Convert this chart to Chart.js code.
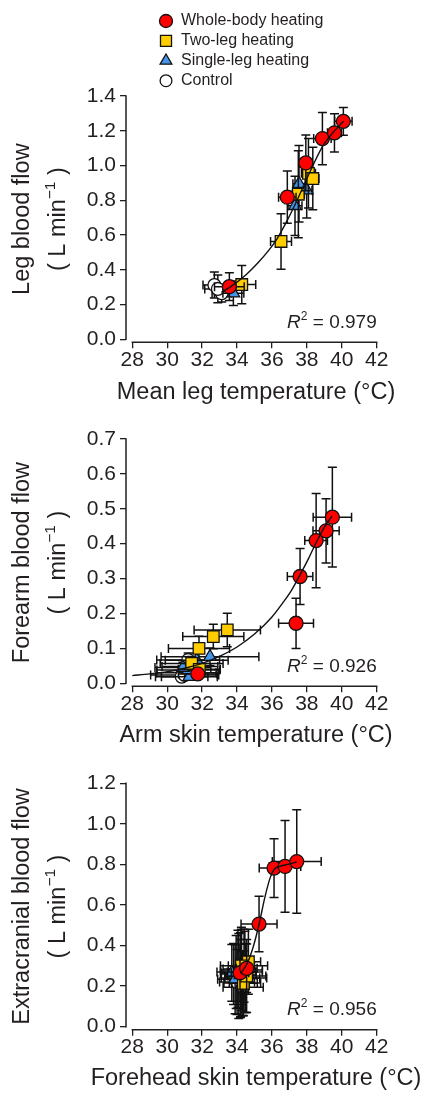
<!DOCTYPE html>
<html>
<head>
<meta charset="utf-8">
<title>Limb and head blood flow vs. local temperature</title>
<script src="https://cdn.jsdelivr.net/npm/chart.js@4.4.1/dist/chart.umd.min.js"></script>
<style>
  html, body { margin: 0; padding: 0; background: #ffffff; }
  #figure { position: relative; width: 429px; height: 1093px; overflow: hidden; }
  #figure canvas { position: absolute; left: 0; }
</style>
</head>
<body>
<div id="figure">
  <canvas id="legPanel"></canvas>
  <canvas id="armPanel"></canvas>
  <canvas id="headPanel"></canvas>
</div>
<script>
// ---------------- data ----------------
const groupNames = ['Whole-body heating', 'Two-leg heating', 'Single-leg heating', 'Control'];
const xTicks = [28, 30, 32, 34, 36, 38, 40, 42];

// rows: [temperature (°C), blood flow (L/min), temperature SD, flow SD]
const legWhole   = [[33.56, 0.303, 0.85, 0.08], [36.88, 0.818, 0.50, 0.15], [37.94, 1.015, 0.35, 0.16],
                    [38.89, 1.155, 0.50, 0.15], [39.58, 1.188, 0.40, 0.11], [40.09, 1.254, 0.50, 0.08]];
const legTwo     = [[34.27, 0.315, 0.80, 0.11], [36.52, 0.563, 0.60, 0.16], [37.51, 0.835, 0.35, 0.25],
                    [38.09, 0.955, 0.40, 0.20], [38.34, 0.925, 0.35, 0.18]];
const legSingle  = [[33.79, 0.265, 0.60, 0.07], [37.32, 0.768, 0.40, 0.17], [37.55, 0.895, 0.35, 0.22],
                    [37.99, 0.858, 0.30, 0.16]];
const legControl = [[32.70, 0.312, 0.65, 0.075], [33.12, 0.265, 0.55, 0.05], [32.90, 0.290, 0.75, 0.08]];
const legFit     = [[33.1, 0.27], [33.6, 0.30], [34.5, 0.37], [35.2, 0.44], [35.8, 0.51], [36.3, 0.58],
                    [36.8, 0.67], [37.3, 0.77], [37.8, 0.88], [38.3, 0.99], [38.9, 1.11], [39.5, 1.19], [40.1, 1.255]];
const legYTicks  = [0, 0.2, 0.4, 0.6, 0.8, 1.0, 1.2, 1.4];
const legR2 = '0.979';

const armWhole   = [[31.75, 0.027, 1.10, 0.010], [37.38, 0.172, 1.00, 0.072], [37.61, 0.306, 0.73, 0.080],
                    [38.53, 0.409, 0.65, 0.135], [39.10, 0.437, 0.75, 0.092], [39.46, 0.476, 1.10, 0.143]];
const armTwo     = [[31.40, 0.057, 1.80, 0.020], [31.84, 0.040, 1.20, 0.015], [31.82, 0.100, 1.75, 0.035],
                    [32.64, 0.134, 1.75, 0.035], [33.44, 0.153, 1.90, 0.048]];
const armSingle  = [[31.27, 0.019, 1.60, 0.010], [31.21, 0.038, 1.80, 0.015], [31.69, 0.066, 1.80, 0.020],
                    [32.45, 0.076, 2.80, 0.025], [30.90, 0.045, 1.60, 0.015]];
const armControl = [[30.83, 0.019, 1.50, 0.010], [31.10, 0.030, 1.70, 0.012], [31.30, 0.048, 1.60, 0.015],
                    [31.00, 0.024, 1.95, 0.010], [31.20, 0.067, 1.80, 0.020]];
const armFit     = [[28.0, 0.022], [29.0, 0.027], [30.0, 0.033], [31.0, 0.043], [32.0, 0.057], [33.0, 0.077],
                    [34.0, 0.104], [35.0, 0.141], [36.0, 0.190], [36.6, 0.229], [37.1, 0.265], [37.6, 0.310],
                    [38.1, 0.358], [38.6, 0.410], [39.0, 0.447], [39.45, 0.480]];
const armYTicks  = [0, 0.1, 0.2, 0.3, 0.4, 0.5, 0.6, 0.7];
const armR2 = '0.926';

const headWhole   = [[34.17, 0.266, 0.50, 0.14], [34.55, 0.288, 0.60, 0.12], [35.26, 0.506, 1.03, 0.137],
                     [36.12, 0.782, 0.85, 0.145], [36.75, 0.790, 0.90, 0.226], [37.42, 0.814, 1.40, 0.255]];
const headTwo     = [[34.36, 0.214, 0.80, 0.16], [34.65, 0.320, 0.70, 0.16], [34.45, 0.270, 1.00, 0.20],
                     [34.55, 0.250, 1.10, 0.18], [34.25, 0.300, 0.75, 0.19]];
const headSingle  = [[33.89, 0.234, 1.00, 0.17], [34.20, 0.255, 0.90, 0.21], [34.50, 0.240, 1.20, 0.17],
                     [34.05, 0.285, 0.85, 0.19], [34.30, 0.215, 1.05, 0.16], [33.70, 0.265, 0.60, 0.14]];
const headControl = [[33.95, 0.270, 1.10, 0.18], [34.10, 0.250, 0.80, 0.21], [34.25, 0.280, 1.20, 0.20],
                     [34.00, 0.220, 1.00, 0.16], [34.40, 0.300, 1.35, 0.18], [34.20, 0.240, 1.10, 0.19],
                     [33.80, 0.260, 0.75, 0.15], [34.35, 0.195, 1.15, 0.14]];
const headFit     = [[34.2, 0.262], [34.6, 0.315], [34.95, 0.40], [35.26, 0.505], [35.6, 0.64], [35.9, 0.735],
                     [36.12, 0.775], [36.5, 0.792], [36.9, 0.80], [37.42, 0.812]];
const headYTicks  = [0, 0.2, 0.4, 0.6, 0.8, 1.0, 1.2];
const headR2 = '0.956';

// ---------------- styles & layout ----------------
const FONT = "'Liberation Sans', Arial, Helvetica, sans-serif";
const INK = '#231f20';
const EDGE = '#111111';
Chart.defaults.font.family = FONT;
Chart.defaults.color = INK;

const seriesStyles = [
  { style: 'circle',   radius: 7.0, legendRadius: 6.5, fill: '#ff0000' },
  { style: 'rect',     radius: 8.2, legendRadius: 7.8, fill: '#ffcc00' },
  { style: 'triangle', radius: 7.3, legendRadius: 6.8, fill: '#4596ea' },
  { style: 'circle',   radius: 6.4, legendRadius: 5.9, fill: '#ffffff' }
];

const FRAME = { width: 429, axisLeft: 126, firstTickX: 132.3, lastTickX: 376.7 };
const LEGEND = { markerX: 166, textX: 181, top: 21, step: 19.9, size: 16 };
const TITLE = { size: 23.5, supSize: 15.5, xCenter: 256, yLine1: 22.5, yLine2: 58.5 };

// ---------------- plugins ----------------
const errorBars = {
  id: 'errorBars',
  beforeDatasetDraw(chart, args) {
    const ds = chart.data.datasets[args.index];
    if (!ds.errors) return;
    const { ctx } = chart;
    const xs = chart.scales.x, ys = chart.scales.y;
    const cap = 4.5;
    ctx.save();
    ctx.strokeStyle = EDGE;
    ctx.lineWidth = 1.5;
    ds.data.forEach((p, i) => {
      const [xe, ye] = ds.errors[i];
      const px = xs.getPixelForValue(p.x), py = ys.getPixelForValue(p.y);
      const xl = xs.getPixelForValue(p.x - xe), xr = xs.getPixelForValue(p.x + xe);
      const yt = ys.getPixelForValue(p.y + ye), yb = ys.getPixelForValue(p.y - ye);
      ctx.beginPath();
      ctx.moveTo(xl, py); ctx.lineTo(xr, py);
      ctx.moveTo(xl, py - cap); ctx.lineTo(xl, py + cap);
      ctx.moveTo(xr, py - cap); ctx.lineTo(xr, py + cap);
      ctx.moveTo(px, yt); ctx.lineTo(px, yb);
      ctx.moveTo(px - cap, yt); ctx.lineTo(px + cap, yt);
      ctx.moveTo(px - cap, yb); ctx.lineTo(px + cap, yb);
      ctx.stroke();
    });
    ctx.restore();
  }
};

// detached axis lines spanning the first to last tick
const axisLines = {
  id: 'axisLines',
  beforeDatasetsDraw(chart) {
    const { ctx, chartArea } = chart;
    const xs = chart.scales.x, ys = chart.scales.y;
    const yt = ys.ticks;
    ctx.save();
    ctx.strokeStyle = INK;
    ctx.lineWidth = 1.5;
    ctx.beginPath();
    ctx.moveTo(chartArea.left, ys.getPixelForValue(yt[0].value) + 0.7);
    ctx.lineTo(chartArea.left, ys.getPixelForValue(yt[yt.length - 1].value) - 0.7);
    ctx.moveTo(xs.getPixelForValue(xTicks[0]) - 0.7, chartArea.bottom);
    ctx.lineTo(xs.getPixelForValue(xTicks[xTicks.length - 1]) + 0.7, chartArea.bottom);
    ctx.stroke();
    ctx.restore();
  }
};

// axis titles: x centred under the axis, y rotated with a superscript unit
const axisTitles = {
  id: 'axisTitles',
  afterDraw(chart, args, opts) {
    if (!opts || !opts.x) return;
    const { ctx, chartArea } = chart;
    const main = `${TITLE.size}px ${FONT}`;
    const sup = `${TITLE.supSize}px ${FONT}`;
    ctx.save();
    ctx.fillStyle = INK;
    ctx.textBaseline = 'middle';
    ctx.font = main;
    ctx.textAlign = 'center';
    ctx.fillText(opts.x, TITLE.xCenter, opts.xY);

    ctx.translate(0, (chartArea.top + chartArea.bottom) / 2);
    ctx.rotate(-Math.PI / 2);
    ctx.fillText(opts.y, 0, TITLE.yLine1);

    const [pre, power, post] = opts.unit;
    ctx.font = main;
    const wPre = ctx.measureText(pre).width;
    const wPost = ctx.measureText(post).width;
    ctx.font = sup;
    const wPow = ctx.measureText(power).width;
    let x = -(wPre + wPow + wPost) / 2;
    ctx.textAlign = 'left';
    ctx.font = main;
    ctx.fillText(pre, x, TITLE.yLine2);
    x += wPre;
    ctx.font = sup;
    ctx.fillText(power, x, TITLE.yLine2 - 8);
    x += wPow;
    ctx.font = main;
    ctx.fillText(post, x, TITLE.yLine2);
    ctx.restore();
  }
};

const r2Label = {
  id: 'r2Label',
  afterDraw(chart, args, opts) {
    if (!opts || !opts.value) return;
    const { ctx, chartArea } = chart;
    const y = chartArea.bottom - 20;
    const tail = ' = ' + opts.value;
    ctx.save();
    ctx.fillStyle = INK;
    ctx.textBaseline = 'middle';
    ctx.textAlign = 'left';
    ctx.font = `19px ${FONT}`;
    const wTail = ctx.measureText(tail).width;
    ctx.font = `12px ${FONT}`;
    const wSup = ctx.measureText('2').width;
    ctx.font = `italic 19px ${FONT}`;
    const wR = ctx.measureText('R').width;
    let x = chartArea.right - wTail - wSup - wR;
    ctx.fillText('R', x, y);
    x += wR;
    ctx.font = `12px ${FONT}`;
    ctx.fillText('2', x, y - 6);
    x += wSup;
    ctx.font = `19px ${FONT}`;
    ctx.fillText(tail, x, y);
    ctx.restore();
  }
};

const groupLegend = {
  id: 'groupLegend',
  afterDraw(chart, args, opts) {
    if (!opts || !opts.show) return;
    const ctx = chart.ctx;
    ctx.save();
    ctx.textBaseline = 'middle';
    ctx.textAlign = 'left';
    groupNames.forEach((name, i) => {
      const s = seriesStyles[i];
      const y = LEGEND.top + i * LEGEND.step;
      ctx.fillStyle = s.fill;
      ctx.strokeStyle = EDGE;
      ctx.lineWidth = 1.3;
      Chart.helpers.drawPoint(ctx, { pointStyle: s.style, radius: s.legendRadius, rotation: 0, borderWidth: 1.3 },
        LEGEND.markerX, y);
      ctx.fillStyle = INK;
      ctx.font = `${LEGEND.size}px ${FONT}`;
      ctx.fillText(name, LEGEND.textX, y);
    });
    ctx.restore();
  }
};

// ---------------- chart builder ----------------
function groupDataset(rows, i) {
  const s = seriesStyles[i];
  return {
    label: groupNames[i],
    data: rows.map(r => ({ x: r[0], y: r[1] })),
    errors: rows.map(r => [r[2], r[3]]),
    pointStyle: s.style,
    pointRadius: s.radius,
    pointHoverRadius: s.radius,
    backgroundColor: s.fill,
    borderColor: EDGE,
    borderWidth: 1.3,
    clip: false,
    order: 0
  };
}

function fitDataset(points) {
  return {
    label: 'fit',
    data: points.map(p => ({ x: p[0], y: p[1] })),
    showLine: true,
    pointRadius: 0,
    pointHoverRadius: 0,
    borderColor: EDGE,
    borderWidth: 1.4,
    cubicInterpolationMode: 'monotone',
    fill: false,
    clip: false,
    order: -1
  };
}

function buildPanel(p) {
  const canvas = document.getElementById(p.id);
  canvas.width = FRAME.width;
  canvas.height = p.height;
  canvas.style.top = p.top + 'px';

  const yMax = p.yTicks[p.yTicks.length - 1];
  const yPerPx = yMax / (p.zeroY - p.topY);
  const yMin = -(p.axisY - p.zeroY) * yPerPx;
  const xPerPx = (xTicks[xTicks.length - 1] - xTicks[0]) / (FRAME.lastTickX - FRAME.firstTickX);
  const xMin = xTicks[0] - (FRAME.firstTickX - FRAME.axisLeft) * xPerPx;

  return new Chart(canvas, {
    type: 'scatter',
    data: {
      datasets: [
        fitDataset(p.fit),
        groupDataset(p.groups[0], 0),
        groupDataset(p.groups[1], 1),
        groupDataset(p.groups[2], 2),
        groupDataset(p.groups[3], 3)
      ]
    },
    options: {
      responsive: false,
      animation: false,
      events: [],
      layout: { padding: { top: p.topY, right: FRAME.width - FRAME.lastTickX, left: 0, bottom: 0 } },
      plugins: {
        legend: { display: false },
        tooltip: { enabled: false },
        r2Label: { value: p.r2 },
        groupLegend: { show: !!p.legend },
        axisTitles: { x: p.xTitle, xY: p.xTitleY, y: p.yTitle, unit: ['( L min', '\u22121', ' )'] }
      },
      scales: {
        x: {
          type: 'linear',
          min: xMin,
          max: xTicks[xTicks.length - 1],
          afterBuildTicks: ax => { ax.ticks = xTicks.map(v => ({ value: v })); },
          afterFit: ax => { ax.height = p.height - p.axisY; },
          grid: { drawOnChartArea: false, drawTicks: true, tickLength: 6, color: INK, lineWidth: 1.3 },
          border: { display: false },
          ticks: {
            autoSkip: false, maxRotation: 0, minRotation: 0, padding: 1, color: INK,
            font: { size: 21, lineHeight: 1 },
            callback: v => String(v)
          },
          title: { display: false }
        },
        y: {
          type: 'linear',
          min: yMin,
          max: yMax,
          afterBuildTicks: ax => { ax.ticks = p.yTicks.map(v => ({ value: v })); },
          afterFit: ax => { ax.width = FRAME.axisLeft; },
          grid: { drawOnChartArea: false, drawTicks: true, tickLength: 6, color: INK, lineWidth: 1.3 },
          border: { display: false },
          ticks: {
            autoSkip: false, padding: 4, color: INK,
            font: { size: 21, lineHeight: 1 },
            callback: v => Number(v).toFixed(1)
          },
          title: { display: false }
        }
      }
    },
    plugins: [axisLines, errorBars, r2Label, groupLegend, axisTitles]
  });
}

buildPanel({
  id: 'legPanel', top: 0, height: 409, topY: 96, zeroY: 339.3, axisY: 342.3, xTitleY: 393,
  yTicks: legYTicks, groups: [legWhole, legTwo, legSingle, legControl], fit: legFit, r2: legR2,
  xTitle: 'Mean leg temperature (°C)', yTitle: 'Leg blood flow', legend: true
});

buildPanel({
  id: 'armPanel', top: 409, height: 344, topY: 30, zeroY: 274.3, axisY: 277.3, xTitleY: 327,
  yTicks: armYTicks, groups: [armWhole, armTwo, armSingle, armControl], fit: armFit, r2: armR2,
  xTitle: 'Arm skin temperature (°C)', yTitle: 'Forearm blood flow'
});

buildPanel({
  id: 'headPanel', top: 753, height: 340, topY: 30.3, zeroY: 273.7, axisY: 276.7, xTitleY: 326,
  yTicks: headYTicks, groups: [headWhole, headTwo, headSingle, headControl], fit: headFit, r2: headR2,
  xTitle: 'Forehead skin temperature (°C)', yTitle: 'Extracranial blood flow'
});
</script>
</body>
</html>
